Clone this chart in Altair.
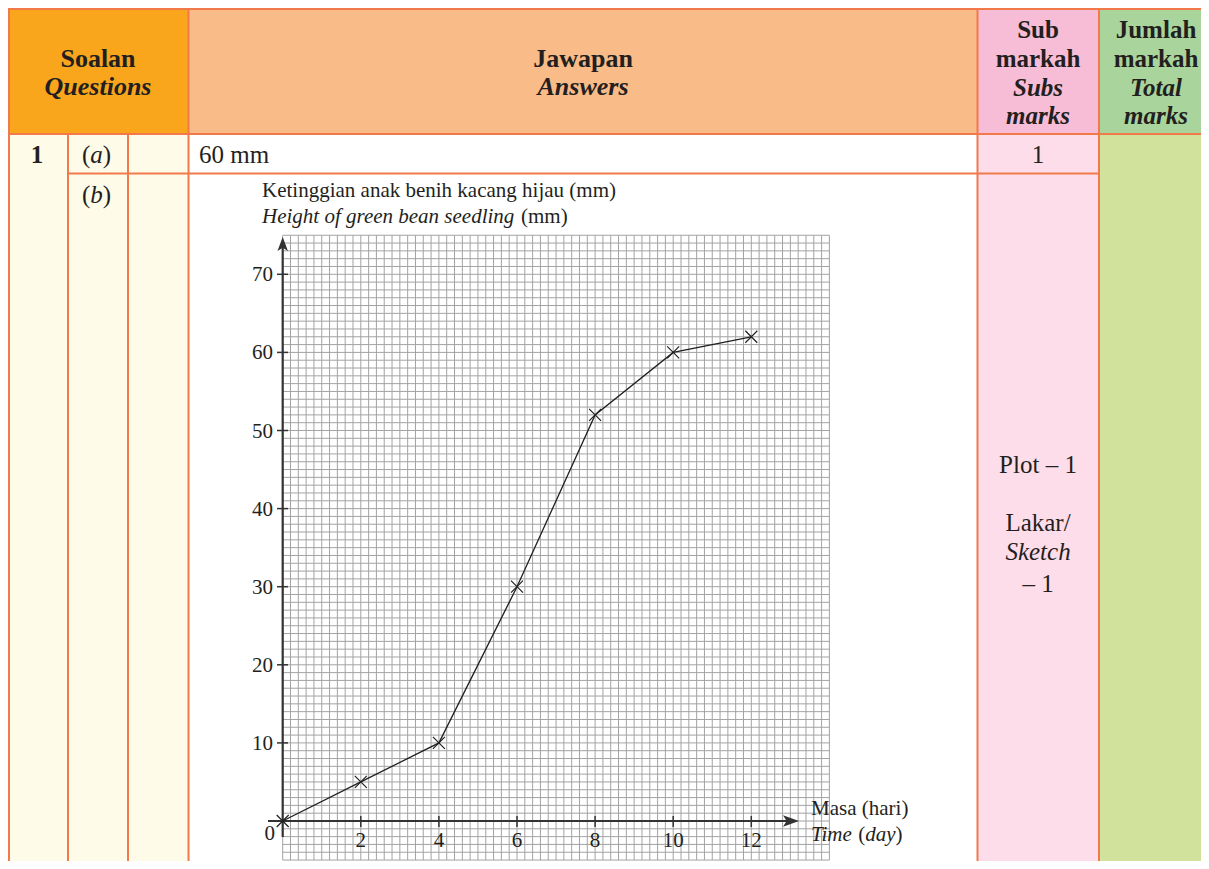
import altair as alt
import pandas as pd
import numpy as np

# ---------------- data ----------------
days = [0, 2, 4, 6, 8, 10, 12]
height_mm = [0, 5, 10, 30, 52, 60, 62]
x_ticks = [2, 4, 6, 8, 10, 12]
y_ticks = [10, 20, 30, 40, 50, 60, 70]

# ---------------- layout / style ----------------
W, H = 1193, 853
FONT = "Liberation Serif"
BORDER = "#F27A4A"
INK = "#231F20"
AXIS = "#333333"
GRID = "#A3A3A3"

xs = alt.Scale(domain=[0, 14], range=[274.7, 821.4], nice=False, zero=False)
ys = alt.Scale(domain=[-5, 75], range=[852.05, 227.25], nice=False, zero=False)

one = pd.DataFrame({"a": [0]})
layers = []


def rect(x0, x1, y0, y1, color):
    return alt.Chart(one).mark_rect(color=color, strokeWidth=0).encode(
        x=alt.value(x0), x2=alt.value(x1), y=alt.value(y0), y2=alt.value(y1))


def line(x0, x1, y0, y1, color=BORDER, w=2):
    return alt.Chart(one).mark_rule(color=color, strokeWidth=w).encode(
        x=alt.value(x0), x2=alt.value(x1), y=alt.value(y0), y2=alt.value(y1))


def txt(s, x, y, size=25, weight="normal", style="normal", align="center"):
    return alt.Chart(one).mark_text(
        text=s, font=FONT, fontSize=size, fontWeight=weight, fontStyle=style,
        align=align, baseline="alphabetic", color=INK).encode(
        x=alt.value(x), y=alt.value(y))


# ---------------- table fills ----------------
layers += [
    rect(0, 180.5, 0, 126, "#F9A61C"),
    rect(180.5, 969.5, 0, 126, "#F9BB87"),
    rect(969.5, 1091, 0, 126, "#F7BCD6"),
    rect(1091, W, 0, 126, "#A9D49B"),
    rect(0, 180.5, 126, H, "#FFFBE9"),
    rect(969.5, 1091, 126, H, "#FDDDEA"),
    rect(1091, W, 126, H, "#D1E29C"),
]

# ---------------- graph paper ----------------
gx = pd.DataFrame({"t": np.round(np.arange(0, 14.001, 0.2), 3)})
gy = pd.DataFrame({"v": np.arange(-5, 76, 1)})
layers.append(alt.Chart(gx).mark_rule(color=GRID, strokeWidth=1).encode(
    x=alt.X("t:Q", scale=xs, axis=None),
    y=alt.YDatum(-5, type="quantitative", scale=ys, axis=None),
    y2=alt.Y2Datum(75)))
layers.append(alt.Chart(gy).mark_rule(color=GRID, strokeWidth=1).encode(
    y=alt.Y("v:Q", scale=ys, axis=None),
    x=alt.XDatum(0, type="quantitative", scale=xs, axis=None),
    x2=alt.X2Datum(14)))

# ---------------- axes ----------------
layers.append(alt.Chart(one).mark_rule(color=AXIS, strokeWidth=2.2).encode(
    y=alt.YDatum(0, type="quantitative", scale=ys, axis=None),
    x=alt.value(260), x2=alt.value(784)))
layers.append(alt.Chart(one).mark_rule(color=AXIS, strokeWidth=2.2).encode(
    x=alt.XDatum(0, type="quantitative", scale=xs, axis=None),
    y=alt.value(829), y2=alt.value(237)))

tx = pd.DataFrame({"t": x_ticks})
ty = pd.DataFrame({"v": y_ticks})
layers.append(alt.Chart(ty).mark_rule(color=AXIS, strokeWidth=1.5).encode(
    y=alt.Y("v:Q", scale=ys, axis=None), x=alt.value(269), x2=alt.value(280)))
layers.append(alt.Chart(tx).mark_rule(color=AXIS, strokeWidth=1.5).encode(
    x=alt.X("t:Q", scale=xs, axis=None), y=alt.value(808), y2=alt.value(819)))

layers.append(alt.Chart(ty).mark_text(
    font=FONT, fontSize=21, align="right", baseline="middle", dy=1, color=INK).encode(
    y=alt.Y("v:Q", scale=ys, axis=None), x=alt.value(265), text="v:Q"))
layers.append(alt.Chart(tx).mark_text(
    font=FONT, fontSize=21, align="center", baseline="alphabetic", color=INK).encode(
    x=alt.X("t:Q", scale=xs, axis=None), y=alt.value(839), text="t:Q"))
layers.append(txt("0", 267, 832, size=21, align="right"))

# arrow heads
layers.append(alt.Chart(one).mark_point(
    shape="M0,-1L0.75,1L0,0.55L-0.75,1Z", size=196, filled=True,
    color=AXIS, opacity=1).encode(
    x=alt.XDatum(0, type="quantitative", scale=xs, axis=None), y=alt.value(236)))
layers.append(alt.Chart(one).mark_point(
    shape="M1,0L-1,-0.72L-0.55,0L-1,0.72Z", size=256, filled=True,
    color=AXIS, opacity=1).encode(
    y=alt.YDatum(0, type="quantitative", scale=ys, axis=None), x=alt.value(783)))

# ---------------- data series ----------------
df = pd.DataFrame({"day": days, "h": height_mm})
layers.append(alt.Chart(df).mark_line(color=INK, strokeWidth=1.3).encode(
    x=alt.X("day:Q", scale=xs, axis=None), y=alt.Y("h:Q", scale=ys, axis=None)))
layers.append(alt.Chart(df).mark_point(
    shape="M-1,-1L1,1M-1,1L1,-1", size=144, filled=False, stroke=INK,
    strokeWidth=1.2, opacity=1).encode(
    x=alt.X("day:Q", scale=xs, axis=None), y=alt.Y("h:Q", scale=ys, axis=None)))

# axis titles
layers += [
    txt("Ketinggian anak benih kacang hijau (mm)", 254, 189, size=21, align="left"),
    txt("Height of green bean seedling", 254, 215, size=21, style="italic", align="left"),
    txt("(mm)", 513, 215, size=21, align="left"),
    txt("Masa (hari)", 803, 807, size=21, align="left"),
    txt("Time", 803, 833, size=21, style="italic", align="left"),
    txt("(", 850.3, 833, size=21, align="left"),
    txt("day", 857.3, 833, size=21, style="italic", align="left"),
    txt(")", 887.6, 833, size=21, align="left"),
]

# ---------------- table borders ----------------
layers += [
    line(0, W, 1, 1),
    line(0, W, 126, 126),
    line(60, 1091, 165.5, 165.5),
    line(1, 1, 0, H),
    line(60, 60, 126, H),
    line(120, 120, 126, H),
    line(180.5, 180.5, 0, H),
    line(969.5, 969.5, 0, H),
    line(1091, 1091, 0, H),
]

# ---------------- table texts ----------------
layers += [
    txt("Soalan", 90, 59, size=26, weight="bold"),
    txt("Questions", 90, 87, size=26, weight="bold", style="italic"),
    txt("Jawapan", 575, 59, size=26, weight="bold"),
    txt("Answers", 575, 87, size=26, weight="bold", style="italic"),
    txt("Sub", 1030, 30, size=25, weight="bold"),
    txt("markah", 1030, 58.5, size=25, weight="bold"),
    txt("Subs", 1030, 87.5, size=25, weight="bold", style="italic"),
    txt("marks", 1030, 115.5, size=25, weight="bold", style="italic"),
    txt("Jumlah", 1148, 30, size=25, weight="bold"),
    txt("markah", 1148, 58.5, size=25, weight="bold"),
    txt("Total", 1148, 87.5, size=25, weight="bold", style="italic"),
    txt("marks", 1148, 115.5, size=25, weight="bold", style="italic"),
    txt("1", 29, 155, size=25, weight="bold"),
    txt("(", 74, 155, size=25, align="left"),
    txt("a", 82.3, 155, size=25, style="italic", align="left"),
    txt(")", 94.8, 155, size=25, align="left"),
    txt("60 mm", 191, 155, size=25, align="left"),
    txt("1", 1030, 155, size=25),
    txt("(", 74, 194.5, size=25, align="left"),
    txt("b", 82.3, 194.5, size=25, style="italic", align="left"),
    txt(")", 94.8, 194.5, size=25, align="left"),
    txt("Plot \u2013 1", 1030, 465, size=25),
    txt("Lakar/", 1030, 523, size=25),
    txt("Sketch", 1030, 552, size=25, style="italic"),
    txt("\u2013 1", 1030, 584, size=25),
]

chart = alt.layer(*layers).properties(
    width=W, height=H, padding=0, autosize="none", background="white"
).configure_view(strokeWidth=0)

chart.save("out.html", embed_options={"renderer": "svg", "actions": False})
